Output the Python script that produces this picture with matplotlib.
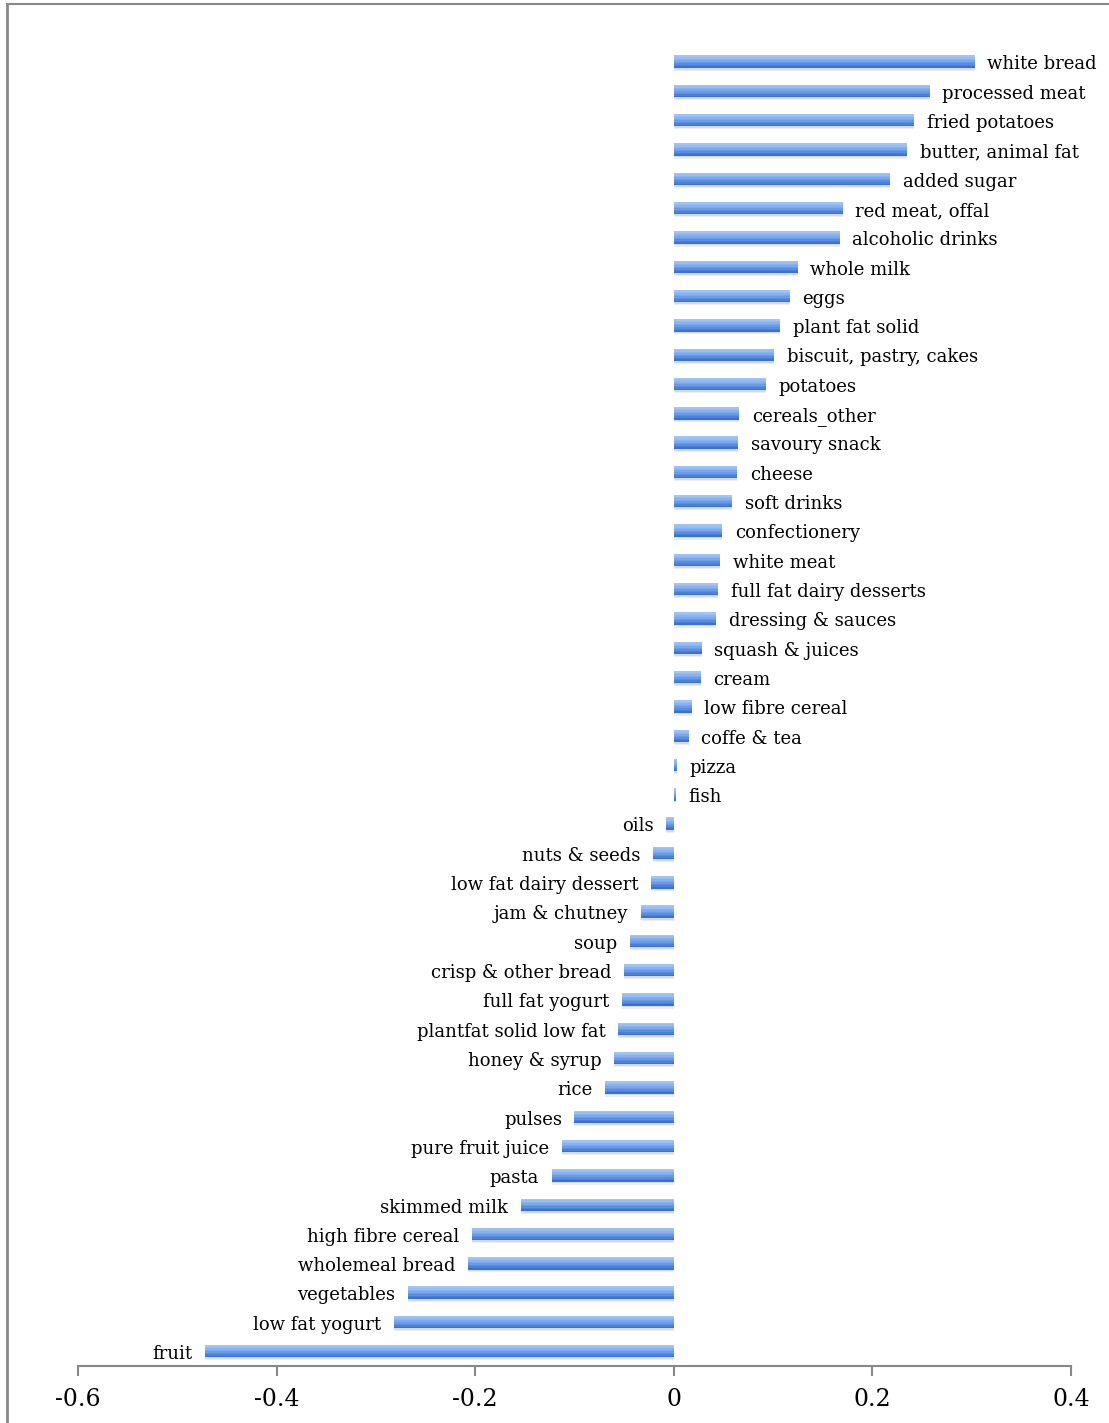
import matplotlib.pyplot as plt
from matplotlib.lines import Line2D

# food groups, bottom to top as drawn
foods = ["fruit", "low fat yogurt", "vegetables", "wholemeal bread", "high fibre cereal",
         "skimmed milk", "pasta", "pure fruit juice", "pulses", "rice", "honey & syrup",
         "plantfat solid low fat", "full fat yogurt", "crisp & other bread", "soup",
         "jam & chutney", "low fat dairy dessert", "nuts & seeds", "oils", "fish", "pizza",
         "coffe & tea", "low fibre cereal", "cream", "squash & juices", "dressing & sauces",
         "full fat dairy desserts", "white meat", "confectionery", "soft drinks", "cheese",
         "savoury snack", "cereals_other", "potatoes", "biscuit, pastry, cakes",
         "plant fat solid", "eggs", "whole milk", "alcoholic drinks", "red meat, offal",
         "added sugar", "butter, animal fat", "fried potatoes", "processed meat", "white bread"]
values = [-0.472, -0.282, -0.268, -0.207, -0.203, -0.154, -0.123, -0.113, -0.100, -0.069,
          -0.060, -0.056, -0.052, -0.050, -0.044, -0.033, -0.023, -0.021, -0.008, 0.002,
          0.003, 0.015, 0.018, 0.027, 0.028, 0.043, 0.045, 0.047, 0.049, 0.059, 0.064,
          0.065, 0.066, 0.093, 0.101, 0.107, 0.117, 0.125, 0.167, 0.170, 0.218, 0.235,
          0.242, 0.258, 0.303]
xticks = [-0.6, -0.4, -0.2, 0, 0.2, 0.4]
xtick_labels = ["-0.6", "-0.4", "-0.2", "0", "0.2", "0.4"]

plt.rcParams['font.family'] = ['DejaVu Serif']

fig = plt.figure(figsize=(11.09, 14.23), dpi=100)
ax = fig.add_axes([0.0703, 0.0401, 0.8954, 0.9269])

pos = list(range(len(foods)))
h = 0.42

# soft shadow under each bar
for dy, a in [(0.10, 0.07), (0.06, 0.08)]:
    ax.barh([p - dy for p in pos], values, height=h, color="#000000", alpha=a,
            linewidth=0, zorder=1)

# bar body as a vertical gradient, dark at the bottom, light at the top
shades = ["#3c72cb", "#4a80d6", "#5a8de0", "#6a9ae8", "#7aa8ee", "#88b3f2", "#95bdf6", "#9fc4f8"]
n = len(shades)
for i, c in enumerate(shades):
    sh = h / n
    ax.barh([p - h / 2 + sh * (i + 0.5) for p in pos], values, height=sh * 1.05,
            color=c, linewidth=0, zorder=2 + i)

for p, v, name in zip(pos, values, foods):
    if v >= 0:
        ax.annotate(name, (v, p), xytext=(9, -2), textcoords="offset points",
                    ha="left", va="center", fontsize=13)
    else:
        ax.annotate(name, (v, p), xytext=(-9, -2), textcoords="offset points",
                    ha="right", va="center", fontsize=13)

ax.set_xlim(-0.6, 0.4)
ax.set_ylim(-0.5, 44.5)
ax.set_xticks(xticks)
ax.set_xticklabels(xtick_labels, fontsize=17)
ax.set_yticks([])
for s in ["left", "top", "right"]:
    ax.spines[s].set_visible(False)
ax.spines["bottom"].set_color("#888888")
ax.spines["bottom"].set_linewidth(1.5)
ax.tick_params(axis="x", direction="out", length=7, width=1.5, color="#888888", pad=9)

# grey frame on the left and top edge of the picture
fig.add_artist(Line2D([0.006, 0.006], [0, 0.997], transform=fig.transFigure,
                      color="#888888", linewidth=2))
fig.add_artist(Line2D([0.006, 1], [0.997, 0.997], transform=fig.transFigure,
                      color="#888888", linewidth=1.5))

fig.savefig("out.png", dpi=100)
